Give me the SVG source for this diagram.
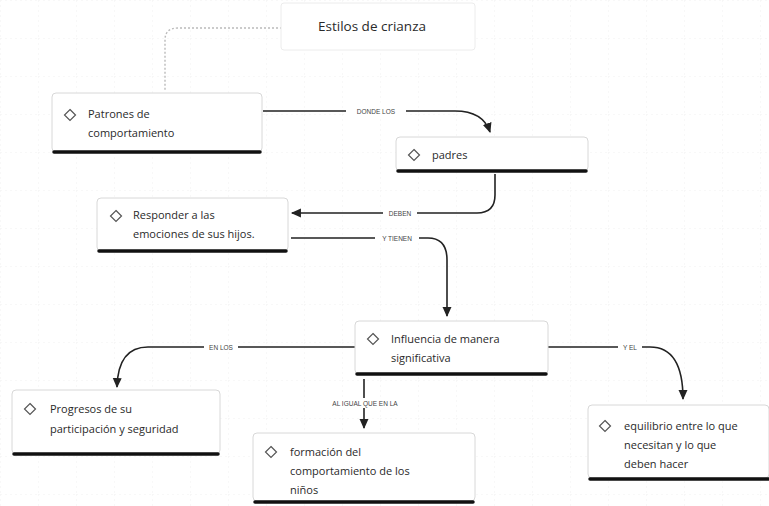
<svg xmlns="http://www.w3.org/2000/svg" width="769" height="506" viewBox="0 0 769 506">
<defs>
<pattern id="grid" width="38" height="38" patternUnits="userSpaceOnUse">
<path d="M0 0 H38 M0 0 V38" stroke="#f2f2f2" stroke-width="1" stroke-dasharray="2 3" fill="none"/>
</pattern>
<marker id="arr" viewBox="0 0 10 10" refX="8" refY="5" markerWidth="7" markerHeight="7" orient="auto-start-reverse">
<path d="M0 1 L9 5 L0 9 Z" fill="#222"/>
</marker>
<symbol id="dia" viewBox="-7 -7 14 14">
<path d="M0 -5.5 L5.5 0 L0 5.5 L-5.5 0 Z" fill="none" stroke="#555" stroke-width="1.2"/>
</symbol>
</defs>
<style>
.box{fill:#fff;stroke:#d8d8d8;stroke-width:1}
.sh{stroke:#111;stroke-width:3.5;stroke-linecap:round}
.t{font-family:"Open Sans","Liberation Sans",sans-serif;font-size:11px;fill:#2a2a2a}
.lbl{font-family:"Liberation Sans",sans-serif;font-size:6.5px;fill:#444}
.lbg{fill:#fff}
.c{fill:none;stroke:#222;stroke-width:1.6}
</style>
<rect width="769" height="506" fill="#fff"/>
<rect width="769" height="506" fill="url(#grid)"/>

<g id="connectors">
<path d="M282 28 H178 Q165 28 165 40 V90" fill="none" stroke="#bbb" stroke-width="1.4" stroke-dasharray="2 2"/>
<path class="c" d="M263 111 H455 Q483 111 490 132" marker-end="url(#arr)"/>
<rect class="lbg" x="346" y="106" width="60" height="10"/>
<text class="lbl" x="376" y="113.5" text-anchor="middle">DONDE LOS</text>
<path class="c" d="M495 174 V195 Q495 213 477 213 H292" marker-end="url(#arr)"/>
<rect class="lbg" x="383" y="208" width="34" height="10"/>
<text class="lbl" x="400" y="215.5" text-anchor="middle">DEBEN</text>
<path class="c" d="M291 238 H428 Q447 238 447 260 V316" marker-end="url(#arr)"/>
<rect class="lbg" x="375" y="233" width="44" height="10"/>
<text class="lbl" x="397" y="240.5" text-anchor="middle">Y TIENEN</text>
<path class="c" d="M355 347 H148 Q118 347 117 387" marker-end="url(#arr)"/>
<rect class="lbg" x="204" y="342" width="34" height="10"/>
<text class="lbl" x="221" y="349.5" text-anchor="middle">EN LOS</text>
<path class="c" d="M364 379 V428" marker-end="url(#arr)"/>
<rect class="lbg" x="318" y="398" width="94" height="10"/>
<text class="lbl" x="365" y="405.5" text-anchor="middle">AL IGUAL QUE EN LA</text>
<path class="c" d="M548 347 H650 Q683 347 683 399" marker-end="url(#arr)"/>
<rect class="lbg" x="618" y="342" width="24" height="10"/>
<text class="lbl" x="630" y="349.5" text-anchor="middle">Y EL</text>
</g>

<g id="titulo">
<rect x="281" y="3" width="194" height="47" rx="3" fill="#fff" stroke="#ececec"/>
<text class="t" x="372" y="31" text-anchor="middle" style="font-size:13.5px">Estilos de crianza</text>
</g>

<g id="patrones">
<rect class="box" x="52" y="93" width="210" height="59" rx="4"/>
<line class="sh" x1="54" y1="152" x2="260" y2="152"/>
<use href="#dia" x="63" y="108" width="14" height="14"/>
<text class="t" x="88" y="118">Patrones de</text>
<text class="t" x="88" y="137">comportamiento</text>
</g>

<g id="padres">
<rect class="box" x="396" y="137" width="192" height="34" rx="4"/>
<line class="sh" x1="398" y1="171" x2="586" y2="171"/>
<use href="#dia" x="407" y="148" width="14" height="14"/>
<text class="t" x="432" y="159">padres</text>
</g>

<g id="responder">
<rect class="box" x="97" y="198" width="191" height="53" rx="4"/>
<line class="sh" x1="99" y1="251" x2="286" y2="251"/>
<use href="#dia" x="109" y="209" width="14" height="14"/>
<text class="t" x="133" y="219">Responder a las</text>
<text class="t" x="133" y="238">emociones de sus hijos.</text>
</g>

<g id="influencia">
<rect class="box" x="355" y="321" width="193" height="53" rx="4"/>
<line class="sh" x1="357" y1="374" x2="546" y2="374"/>
<use href="#dia" x="366" y="332" width="14" height="14"/>
<text class="t" x="391" y="343">Influencia de manera</text>
<text class="t" x="391" y="362">significativa</text>
</g>

<g id="progresos">
<rect class="box" x="12" y="390" width="208" height="64" rx="4"/>
<line class="sh" x1="14" y1="454" x2="218" y2="454"/>
<use href="#dia" x="23" y="402" width="14" height="14"/>
<text class="t" x="50" y="413">Progresos de su</text>
<text class="t" x="50" y="433">participación y seguridad</text>
</g>

<g id="formacion">
<rect class="box" x="253" y="433" width="222" height="68" rx="4"/>
<line class="sh" x1="255" y1="502" x2="473" y2="502"/>
<use href="#dia" x="264" y="445" width="14" height="14"/>
<text class="t" x="290" y="456">formación del</text>
<text class="t" x="290" y="475">comportamiento de los</text>
<text class="t" x="290" y="494">niños</text>
</g>

<g id="equilibrio">
<rect class="box" x="588" y="405" width="181" height="73" rx="4"/>
<line class="sh" x1="590" y1="479" x2="769" y2="479"/>
<use href="#dia" x="598" y="419" width="14" height="14"/>
<text class="t" x="624" y="430">equilibrio entre lo que</text>
<text class="t" x="624" y="449">necesitan y lo que</text>
<text class="t" x="624" y="468">deben hacer</text>
</g>
</svg>
